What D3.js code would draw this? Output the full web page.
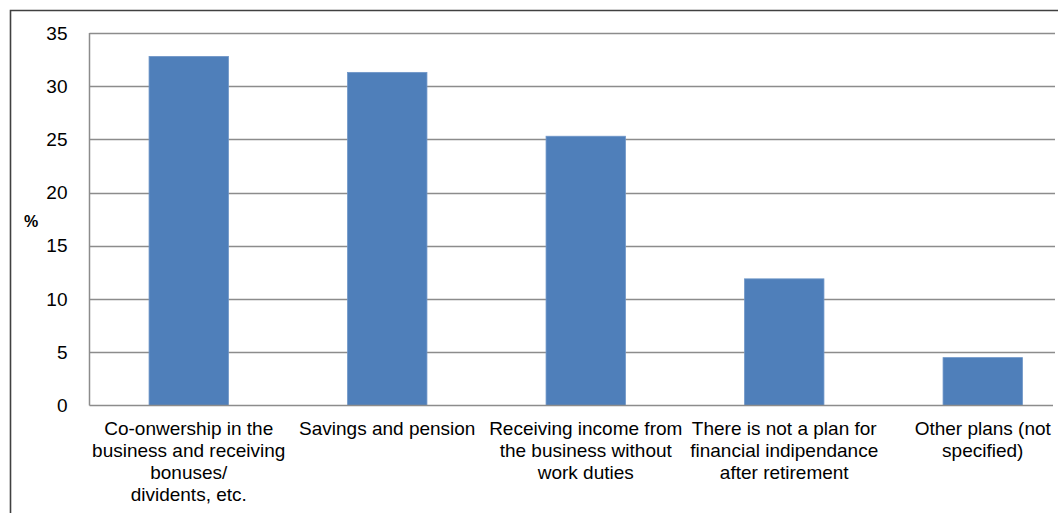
<!DOCTYPE html>
<html>
<head>
<meta charset="utf-8">
<script src="https://cdn.jsdelivr.net/npm/d3@7"></script>
<style>
  html, body { margin: 0; padding: 0; background: #fff; }
  svg { display: block; font-family: "Liberation Sans", Arial, sans-serif; }
</style>
</head>
<body>
<svg id="chart" width="1058" height="513"></svg>
<script>
// Plans for financial independence after retirement (% of respondents)
const categories = [
  ["Co-onwership in the", "business and receiving", "bonuses/", "dividents, etc."],
  ["Savings and pension"],
  ["Receiving income from", "the business without", "work duties"],
  ["There is not a plan for", "financial indipendance", "after retirement"],
  ["Other plans (not", "specified)"]
];
const values = [32.8, 31.3, 25.3, 11.9, 4.5];
const yTicks = [0, 5, 10, 15, 20, 25, 30, 35];
const yLabel = "%";

const svg = d3.select("#chart");
const W = 1058, H = 513;

// Outer frame (runs off the right and bottom edges)
svg.append("path")
  .attr("d", `M10.5,${H + 5} L10.5,10.5 L${W + 5},10.5`)
  .attr("fill", "none")
  .attr("stroke", "#404040")
  .attr("stroke-width", 1.6);

const plotLeft = 89.5, plotRight = 1082, gridEnd = 1055;
const y = d3.scaleLinear().domain([0, 35]).range([405.5, 33]);
const x = d3.scaleBand()
  .domain(d3.range(categories.length))
  .range([plotLeft, plotRight])
  .paddingInner(0.6)
  .paddingOuter(0.3);

// Horizontal gridlines
svg.append("g")
  .selectAll("line")
  .data(yTicks.filter(d => d > 0))
  .join("line")
  .attr("x1", plotLeft)
  .attr("x2", gridEnd)
  .attr("y1", d => Math.round(y(d)) + 0.5)
  .attr("y2", d => Math.round(y(d)) + 0.5)
  .attr("stroke", "#8c8c8c")
  .attr("stroke-width", 1.3);

// Bars
svg.append("g")
  .selectAll("rect")
  .data(values)
  .join("rect")
  .attr("x", (d, i) => x(i))
  .attr("y", d => y(d))
  .attr("width", x.bandwidth())
  .attr("height", d => y(0) - y(d))
  .attr("fill", "#4f7fba")
  .attr("stroke", "#6f96c8")
  .attr("stroke-width", 0.8);

// Y axis
const yAxis = svg.append("g")
  .attr("transform", `translate(${plotLeft},0)`)
  .call(d3.axisLeft(y).tickValues(yTicks).tickSize(0).tickPadding(22));
yAxis.select(".domain")
  .attr("stroke", "#8c8c8c")
  .attr("stroke-width", 1.5)
  .attr("d", `M0,${y(35)}V${y(0)}`);
yAxis.selectAll("text")
  .attr("font-size", 19)
  .attr("font-family", "Liberation Sans, Arial, sans-serif")
  .attr("fill", "#000");

// X axis baseline
svg.append("line")
  .attr("x1", plotLeft)
  .attr("x2", 1053)
  .attr("y1", y(0))
  .attr("y2", y(0))
  .attr("stroke", "#8c8c8c")
  .attr("stroke-width", 1.5);

// Category labels (multi-line)
const lab = svg.append("g")
  .selectAll("text")
  .data(categories)
  .join("text")
  .attr("text-anchor", "middle")
  .attr("font-size", 19)
  .attr("fill", "#000")
  .attr("x", (d, i) => x(i) + x.bandwidth() / 2)
  .attr("y", 434.5);
lab.selectAll("tspan")
  .data(d => d)
  .join("tspan")
  .attr("x", function () { return this.parentNode.getAttribute("x"); })
  .attr("dy", (d, i) => i === 0 ? 0 : 22)
  .text(d => d);

// Y axis unit label
svg.append("text")
  .attr("x", 31)
  .attr("y", 227)
  .attr("text-anchor", "middle")
  .attr("font-size", 16)
  .attr("font-weight", "bold")
  .attr("fill", "#000")
  .text(yLabel);
</script>
</body>
</html>
